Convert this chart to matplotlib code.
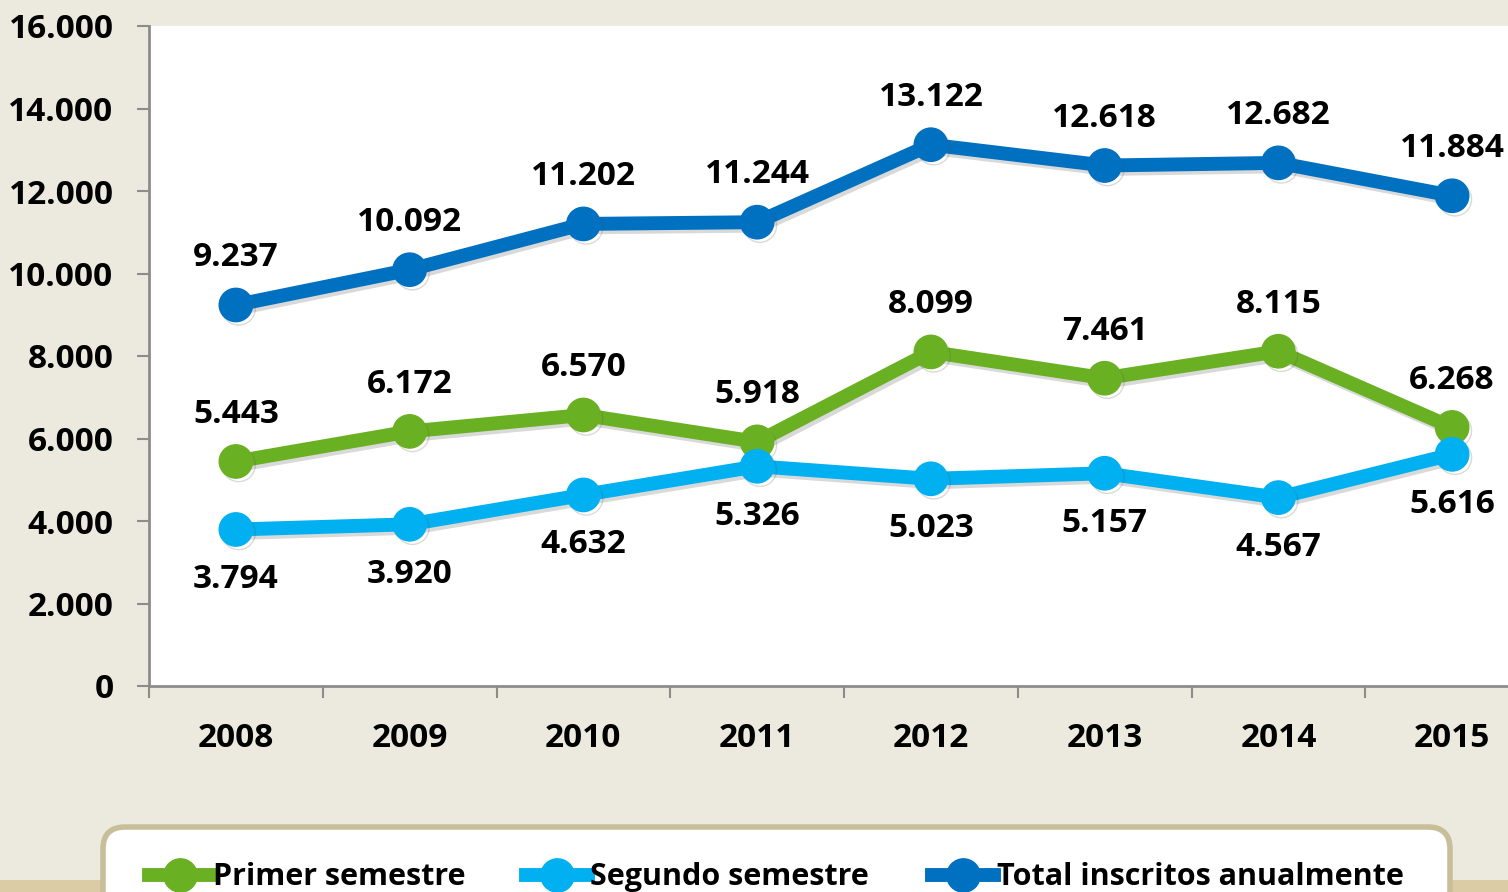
import matplotlib
matplotlib.use("Agg")
import matplotlib.pyplot as plt
import matplotlib.patheffects as pe
from matplotlib.lines import Line2D
from matplotlib.patches import Rectangle, FancyBboxPatch
from matplotlib.transforms import IdentityTransform

# datos del grafico
anios = ["2008", "2009", "2010", "2011", "2012", "2013", "2014", "2015"]
primer_semestre = [5443, 6172, 6570, 5918, 8099, 7461, 8115, 6268]
segundo_semestre = [3794, 3920, 4632, 5326, 5023, 5157, 4567, 5616]
total_anual = [9237, 10092, 11202, 11244, 13122, 12618, 12682, 11884]
nombres = ["Primer semestre", "Segundo semestre", "Total inscritos anualmente"]
y_ticks = [0, 2000, 4000, 6000, 8000, 10000, 12000, 14000, 16000]

color_fondo = "#ECE9DF"
verde = "#6AB023"
celeste = "#00B0F0"
azul = "#0070C0"
gris = "#8C8C8C"

plt.rcParams["font.family"] = ["Open Sans", "DejaVu Sans"]
plt.rcParams["font.weight"] = "bold"

W, H = 1508, 892
fig = plt.figure(figsize=(W / 100, H / 100), dpi=100, facecolor=color_fondo)
ax = fig.add_axes([149 / W, 206 / H, 1390 / W, 660 / H])
ax.set_facecolor("white")

x = list(range(len(anios)))
sombra = [pe.SimpleLineShadow(offset=(2, -2.5), shadow_color="#555555", alpha=0.22, rho=1.0),
          pe.Normal()]

series = [(primer_semestre, verde, "arriba"),
          (segundo_semestre, celeste, "abajo"),
          (total_anual, azul, "arriba")]

for valores, color, pos in series:
    ax.plot(x, valores, color=color, lw=10, marker="o", ms=24,
            solid_joinstyle="round", path_effects=sombra, zorder=3)
    for xi, v in zip(x, valores):
        etiqueta = f"{v:,}".replace(",", ".")
        dy = 34 if pos == "arriba" else -36
        ax.annotate(etiqueta, (xi, v), xytext=(0, dy), textcoords="offset points",
                    ha="center", va="center", fontsize=24, fontweight="bold",
                    color="black", zorder=5)

ax.set_xlim(-0.5, len(anios) - 0.5)
ax.set_ylim(0, 16000)
ax.set_yticks(y_ticks)
ax.set_yticklabels([f"{t:,}".replace(",", ".") for t in y_ticks])
ax.set_xticks(x)
ax.set_xticklabels(anios)
ax.set_xticks([i - 0.5 for i in range(len(anios) + 1)], minor=True)

ax.tick_params(axis="y", which="major", length=8.5, width=1.5, color=gris,
               labelsize=24, pad=17)
ax.tick_params(axis="x", which="major", length=0, labelsize=24, pad=26)
ax.tick_params(axis="x", which="minor", length=8.5, width=1.5, color=gris)
for lbl in ax.get_xticklabels() + ax.get_yticklabels():
    lbl.set_fontweight("bold")

for lado in ["top", "right"]:
    ax.spines[lado].set_visible(False)
for lado in ["left", "bottom"]:
    ax.spines[lado].set_color(gris)
    ax.spines[lado].set_linewidth(2)

# franja inferior con textura
fig.patches.append(Rectangle((0, 0), 1, 12 / H, transform=fig.transFigure,
                             facecolor="#DCCCA6", edgecolor="none", zorder=0))

# leyenda hecha a mano (cortada por el borde inferior como en el original)
px = IdentityTransform()
caja = FancyBboxPatch((103, -40), 1347, H - 827 + 40,
                      boxstyle="round,pad=0,rounding_size=22", transform=px,
                      facecolor="white", edgecolor="#C8BF9A", linewidth=4, zorder=1)
fig.patches.append(caja)

y_ley = H - 875
x_handles = [180, 557, 963]
x_textos = [213, 590, 997]
for nombre, color, xh, xt in zip(nombres, (verde, celeste, azul), x_handles, x_textos):
    fig.lines.append(Line2D([xh - 31, xh + 31], [y_ley, y_ley], color=color, lw=10,
                            transform=px, zorder=2))
    fig.lines.append(Line2D([xh], [y_ley], color=color, marker="o", ms=24, lw=0,
                            transform=px, zorder=2))
    fig.text(xt / W, (H - 885) / H, nombre, fontsize=22, fontweight="bold",
             ha="left", va="baseline", color="black", zorder=3)

fig.savefig("out.png", dpi=100, facecolor=color_fondo)
